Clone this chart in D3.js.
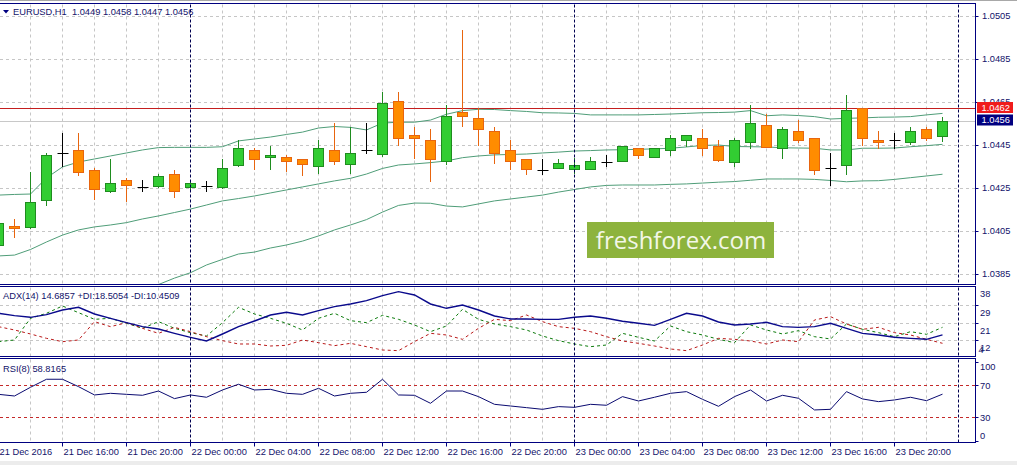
<!DOCTYPE html>
<html>
<head>
<meta charset="utf-8">
<script src="https://cdn.jsdelivr.net/npm/d3@7"></script>
<style>
  html, body { margin: 0; padding: 0; background: #fff; overflow: hidden; }
  svg { display: block; font-family: "Liberation Sans", Arial, sans-serif; }
</style>
</head>
<body>
<div id="chart"></div>
<script>
// EURUSD H1, one bar per hour from 21 Dec 2016 12:00
const opens = [1.03984, 1.04073, 1.04070, 1.04193, 1.04413, 1.04425, 1.04332, 1.04235, 1.04287, 1.04253,
  1.04261, 1.04314, 1.04253, 1.04259, 1.04253, 1.04356, 1.04425, 1.04393, 1.04393, 1.04384,
  1.04354, 1.04425, 1.04363, 1.04425, 1.04410, 1.04655, 1.04495, 1.04472, 1.04374, 1.04602,
  1.04574, 1.04514, 1.04425, 1.04384, 1.04332, 1.04342, 1.04340, 1.04340, 1.04370, 1.04374,
  1.04435, 1.04393, 1.04425, 1.04472, 1.04481, 1.04444, 1.04372, 1.04463, 1.04542, 1.04435,
  1.04514, 1.04481, 1.04342, 1.04356, 1.04621, 1.04472, 1.04472, 1.04463, 1.04523, 1.0449];
const highs = [1.04097, 1.04106, 1.04326, 1.04414, 1.04506, 1.04506, 1.04343, 1.04385, 1.04297, 1.04287,
  1.04315, 1.04334, 1.04284, 1.04284, 1.04385, 1.04472, 1.04436, 1.04445, 1.04404, 1.04384,
  1.04473, 1.04551, 1.04534, 1.04551, 1.04697, 1.04697, 1.04534, 1.04524, 1.04635, 1.04985,
  1.04621, 1.04535, 1.04472, 1.04384, 1.04384, 1.04384, 1.04391, 1.04393, 1.04402, 1.04444,
  1.04435, 1.04435, 1.04495, 1.04495, 1.04523, 1.04472, 1.04481, 1.04636, 1.04594, 1.04534,
  1.04566, 1.04481, 1.04411, 1.04683, 1.04621, 1.04514, 1.04504, 1.04532, 1.04532, 1.0458];
const lows = [1.03978, 1.04024, 1.04063, 1.04172, 1.04352, 1.04312, 1.04200, 1.04232, 1.04191, 1.04235,
  1.04255, 1.04210, 1.04235, 1.04235, 1.04250, 1.04354, 1.04340, 1.04340, 1.04330, 1.04312,
  1.04321, 1.04363, 1.04321, 1.04411, 1.04399, 1.04451, 1.04391, 1.04284, 1.04363, 1.04538,
  1.04451, 1.04365, 1.04340, 1.04314, 1.04314, 1.04342, 1.04321, 1.04340, 1.04352, 1.04374,
  1.04391, 1.04393, 1.04402, 1.04444, 1.04402, 1.04374, 1.04354, 1.04435, 1.04441, 1.04391,
  1.04463, 1.04314, 1.04263, 1.04314, 1.04451, 1.04435, 1.04435, 1.04453, 1.04472, 1.0447];
const closes = [1.04086, 1.04063, 1.04184, 1.04402, 1.04413, 1.04323, 1.04244, 1.04272, 1.04263, 1.04253,
  1.04304, 1.04235, 1.04272, 1.04259, 1.04342, 1.04435, 1.04384, 1.04404, 1.04374, 1.04363,
  1.04435, 1.04374, 1.04411, 1.04425, 1.04644, 1.04481, 1.04481, 1.04384, 1.04583, 1.04583,
  1.04523, 1.04411, 1.04374, 1.04340, 1.04332, 1.04365, 1.04356, 1.04374, 1.04370, 1.04444,
  1.04402, 1.04435, 1.04481, 1.04495, 1.04435, 1.04382, 1.04472, 1.04551, 1.04441, 1.04523,
  1.04472, 1.04332, 1.04342, 1.04611, 1.04481, 1.04463, 1.04472, 1.04514, 1.04481, 1.0456];

// Bollinger bands
const bbUpper = [1.04217, 1.04220, 1.04222, 1.04297, 1.04348, 1.04371, 1.04385, 1.04399, 1.04413, 1.04427,
  1.04438, 1.04439, 1.04439, 1.04439, 1.04442, 1.04469, 1.04478, 1.04487, 1.04499, 1.04510,
  1.04529, 1.04536, 1.04532, 1.04520, 1.04552, 1.04556, 1.04556, 1.04566, 1.04593, 1.04610,
  1.04616, 1.04615, 1.04610, 1.04606, 1.04600, 1.04599, 1.04597, 1.04590, 1.04590, 1.04590,
  1.04590, 1.04592, 1.04594, 1.04597, 1.04600, 1.04601, 1.04603, 1.04610, 1.04586, 1.04590,
  1.04587, 1.04582, 1.04571, 1.04574, 1.04576, 1.04579, 1.04580, 1.04582, 1.04590, 1.04597];
const bbMiddle = [1.03934, 1.03938, 1.03964, 1.03999, 1.04031, 1.04055, 1.04069, 1.04078, 1.04089, 1.04106,
  1.04120, 1.04136, 1.04152, 1.04171, 1.04190, 1.04201, 1.04213, 1.04227, 1.04241, 1.04255,
  1.04269, 1.04283, 1.04295, 1.04315, 1.04341, 1.04357, 1.04362, 1.04368, 1.04376, 1.04391,
  1.04399, 1.04404, 1.04406, 1.04408, 1.04413, 1.04417, 1.04422, 1.04424, 1.04427, 1.04428,
  1.04430, 1.04432, 1.04435, 1.04441, 1.04448, 1.04450, 1.04443, 1.04442, 1.04441, 1.04437,
  1.04436, 1.04435, 1.04427, 1.04427, 1.04435, 1.04435, 1.04436, 1.04442, 1.04447, 1.04453];
const bbLower = [1.03650, 1.03657, 1.03706, 1.03701, 1.03715, 1.03738, 1.03752, 1.03757, 1.03766, 1.03785,
  1.03801, 1.03831, 1.03856, 1.03892, 1.03918, 1.03943, 1.03952, 1.03971, 1.03985, 1.04003,
  1.04027, 1.04055, 1.04078, 1.04103, 1.04138, 1.04169, 1.04180, 1.04179, 1.04166, 1.04162,
  1.04176, 1.04190, 1.04199, 1.04208, 1.04217, 1.04231, 1.04243, 1.04255, 1.04262, 1.04264,
  1.04264, 1.04264, 1.04267, 1.04269, 1.04273, 1.04277, 1.04280, 1.04286, 1.04292, 1.04292,
  1.04292, 1.04290, 1.04285, 1.04279, 1.04283, 1.04284, 1.04290, 1.04298, 1.04306, 1.04314];

// ADX(14)
const adx = [25.55, 24.37, 23.53, 24.87, 27.23, 28.57, 25.21, 23.03, 20.84, 18.83,
  17.65, 15.47, 13.46, 11.61, 15.13, 18.83, 21.68, 24.71, 26.05, 24.71,
  26.89, 28.90, 30.25, 31.93, 34.44, 36.46, 34.78, 30.25, 28.07, 29.74,
  27.23, 24.20, 22.69, 22.69, 22.52, 22.52, 23.53, 24.20, 23.03, 21.52,
  20.51, 19.50, 22.52, 25.55, 24.20, 21.18, 19.67, 20.17, 21.01, 18.83,
  18.49, 18.83, 20.51, 17.99, 15.47, 14.63, 13.46, 12.95, 12.45, 14.6857];
const plusDI = [11.27, 12.11, 23.03, 25.55, 29.24, 25.88, 22.52, 23.03, 20.51, 17.99,
  21.35, 17.99, 15.81, 14.13, 20.84, 28.57, 25.21, 23.03, 20.51, 17.15,
  23.03, 25.55, 21.85, 20.84, 24.54, 22.52, 19.67, 16.31, 19.17, 27.56,
  22.52, 20.17, 18.83, 17.15, 14.13, 11.78, 10.10, 8.75, 9.59, 15.47,
  13.46, 11.61, 19.17, 16.31, 14.63, 12.45, 10.77, 19.67, 17.15, 15.14,
  16.81, 13.79, 12.62, 20.17, 17.49, 15.81, 13.79, 16.31, 14.97, 18.5054];
const minusDI = [18.83, 17.15, 15.14, 12.95, 11.27, 12.11, 21.35, 18.83, 20.84, 17.99,
  15.47, 18.49, 16.31, 13.79, 11.78, 10.10, 10.10, 9.09, 9.43, 12.11,
  10.77, 9.26, 10.43, 8.75, 7.07, 6.74, 11.27, 15.47, 14.63, 12.45,
  17.99, 22.52, 21.85, 24.71, 21.35, 18.83, 17.99, 16.31, 13.79, 11.61,
  10.43, 9.09, 7.58, 6.74, 9.59, 12.95, 12.45, 11.61, 10.10, 12.11,
  11.27, 22.19, 23.87, 20.17, 17.49, 18.49, 15.81, 14.63, 12.45, 10.4509];

// RSI(8)
const rsi = [58.6, 56.5, 67.5, 77.6, 77.6, 68.3, 57.8, 59.9, 58.6, 57.4,
  62.8, 53.2, 57.8, 54.9, 64.1, 71.3, 64.1, 64.9, 59.9, 58.6,
  66.2, 56.5, 59.9, 61.2, 77.6, 57.8, 57.4, 47.3, 62.8, 62.8,
  55.7, 46.0, 43.9, 41.8, 39.7, 43.1, 42.2, 46.0, 44.8, 55.7,
  50.2, 54.9, 59.9, 62.0, 52.3, 43.5, 55.7, 64.1, 50.2, 57.4,
  53.6, 38.9, 39.7, 62.0, 52.8, 49.4, 51.5, 54.9, 50.6, 58.8165];

// axes
const priceTicks = [1.0505, 1.0485, 1.0465, 1.0445, 1.0425, 1.0405, 1.0385];
const timeTickBars = [0, 4, 8, 12, 16, 20, 24, 28, 32, 36, 40, 44, 48, 52, 56];
const timeTickLabels = ['21 Dec 2016', '21 Dec 16:00', '21 Dec 20:00', '22 Dec 00:00', '22 Dec 04:00',
  '22 Dec 08:00', '22 Dec 12:00', '22 Dec 16:00', '22 Dec 20:00', '23 Dec 00:00', '23 Dec 04:00',
  '23 Dec 08:00', '23 Dec 12:00', '23 Dec 16:00', '23 Dec 20:00'];
const daySeparators = [12, 36, 60];
const adxGrid = [29.74, 20.83, 12.11];
const adxTickLabels = ['38', '29', '21', '12', '4'];
const adxTickValues = [38.8, 29.74, 20.83, 12.11, 4.0];
const rsiLevels = [70, 30];
const rsiTicks = [100, 70, 30, 0];
const horizLine = 1.0462;
const bidPrice = 1.0456;

const W = 1017, H = 465;
const axisX = 975.5;
const mainP = { top: 3.5, bottom: 284.5 };
const adxP = { top: 286.5, bottom: 356.5 };
const rsiP = { top: 358.5, bottom: 442.5 };
const navy = '#000080';
const textCol = '#12126a';
const gridCol = '#c6c6c6';

const svg = d3.select('#chart').append('svg')
  .attr('width', W).attr('height', H);

const x = d3.scaleLinear().domain([0, 60]).range([-1.5, 958.5]);
const y = d3.scaleLinear().domain([1.0385, 1.0505]).range([274, 16]);
const yAdx = d3.scaleLinear().domain([4.0, 38.8]).range([356.1, 287]);
const yRsi = d3.scaleLinear().domain([0, 100]).range([440.8, 361.5]);
const crisp = v => Math.round(v) + 0.5;
const bars = d3.range(opens.length);

// clip paths per panel
const defs = svg.append('defs');
[['clip-main', mainP], ['clip-adx', adxP], ['clip-rsi', rsiP]].forEach(([id, p]) => {
  defs.append('clipPath').attr('id', id).append('rect')
    .attr('x', 0).attr('y', p.top).attr('width', axisX).attr('height', p.bottom - p.top);
});

// window border strips
svg.append('rect').attr('x', 0).attr('y', 461).attr('width', W).attr('height', 4).attr('fill', '#ececec');
svg.append('line').attr('x1', 0).attr('x2', W).attr('y1', 0.5).attr('y2', 0.5).attr('stroke', '#a8a8a8');

// vertical grid in every panel
const vGrid = d3.range(0, 60, 2).filter(i => !daySeparators.includes(i));
[mainP, adxP, rsiP].forEach(p => {
  svg.append('g').selectAll('line').data(vGrid).enter().append('line')
    .attr('x1', i => x(i)).attr('x2', i => x(i))
    .attr('y1', p.top + 1).attr('y2', p.bottom)
    .attr('stroke', gridCol).attr('stroke-dasharray', '3,3');
});

// main panel
const gMain = svg.append('g').attr('clip-path', 'url(#clip-main)');

gMain.selectAll('.hgrid').data(priceTicks).enter().append('line')
  .attr('x1', 0).attr('x2', axisX)
  .attr('y1', d => crisp(y(d))).attr('y2', d => crisp(y(d)))
  .attr('stroke', gridCol).attr('stroke-dasharray', '3,3');

gMain.append('line')
  .attr('x1', 0).attr('x2', axisX)
  .attr('y1', crisp(y(bidPrice))).attr('y2', crisp(y(bidPrice)))
  .attr('stroke', '#c8c8c8');

gMain.append('line')
  .attr('x1', 0).attr('x2', axisX)
  .attr('y1', crisp(y(horizLine))).attr('y2', crisp(y(horizLine)))
  .attr('stroke', '#c41f1f');

const bandLine = d3.line().x((d, i) => x(i)).y(d => y(d));
[bbUpper, bbMiddle, bbLower].forEach(band => {
  gMain.append('path').datum(band)
    .attr('d', bandLine).attr('fill', 'none')
    .attr('stroke', '#4f9d78').attr('stroke-width', 1);
});

// candles
const candle = gMain.selectAll('.candle').data(bars).enter().append('g').attr('class', 'candle');
const kind = i => closes[i] > opens[i] ? 'up' : (closes[i] < opens[i] ? 'down' : 'doji');
const edge = { up: '#1f8c1f', down: '#e8650e', doji: '#000000' };
const fill = { up: '#32cd32', down: '#ff8c00' };

candle.append('line')
  .attr('x1', i => x(i)).attr('x2', i => x(i))
  .attr('y1', i => Math.round(y(highs[i]))).attr('y2', i => Math.round(y(lows[i])) + 1)
  .attr('stroke', i => edge[kind(i)]);

candle.filter(i => kind(i) !== 'doji').append('rect')
  .attr('x', i => x(i) - 5)
  .attr('y', i => crisp(y(Math.max(opens[i], closes[i]))))
  .attr('width', 10)
  .attr('height', i => Math.max(1, crisp(y(Math.min(opens[i], closes[i]))) - crisp(y(Math.max(opens[i], closes[i])))))
  .attr('fill', i => fill[kind(i)])
  .attr('stroke', i => edge[kind(i)]);

candle.filter(i => kind(i) === 'doji').append('line')
  .attr('x1', i => x(i) - 5).attr('x2', i => x(i) + 6)
  .attr('y1', i => crisp(y(opens[i]))).attr('y2', i => crisp(y(opens[i])))
  .attr('stroke', '#000');

// watermark
svg.append('rect').attr('x', 587).attr('y', 222).attr('width', 187).attr('height', 36).attr('fill', '#8db33d');
svg.append('text').attr('x', 681).attr('y', 248.5)
  .attr('text-anchor', 'middle')
  .style('font-family', '"Open Sans", "Noto Sans", sans-serif')
  .style('font-size', '24px').style('fill', '#f3f7e8')
  .text('freshforex.com');

// ADX panel
const gAdx = svg.append('g').attr('clip-path', 'url(#clip-adx)');
gAdx.selectAll('.hgrid').data(adxGrid).enter().append('line')
  .attr('x1', 0).attr('x2', axisX)
  .attr('y1', d => crisp(yAdx(d))).attr('y2', d => crisp(yAdx(d)))
  .attr('stroke', gridCol).attr('stroke-dasharray', '3,3');

const adxLine = d3.line().x((d, i) => x(i)).y(d => yAdx(d));
gAdx.append('path').datum(plusDI).attr('d', adxLine).attr('fill', 'none')
  .attr('stroke', '#0b7a0b').attr('stroke-dasharray', '3,3');
gAdx.append('path').datum(minusDI).attr('d', adxLine).attr('fill', 'none')
  .attr('stroke', '#b81818').attr('stroke-dasharray', '3,3');
gAdx.append('path').datum(adx).attr('d', adxLine).attr('fill', 'none')
  .attr('stroke', '#0a0a8c').attr('stroke-width', 1.4);

// RSI panel
const gRsi = svg.append('g').attr('clip-path', 'url(#clip-rsi)');
gRsi.selectAll('.level').data(rsiLevels).enter().append('line')
  .attr('x1', 0).attr('x2', axisX)
  .attr('y1', d => crisp(yRsi(d))).attr('y2', d => crisp(yRsi(d)))
  .attr('stroke', '#c42a2a').attr('stroke-dasharray', '3,3');
gRsi.append('path').datum(rsi)
  .attr('d', d3.line().x((d, i) => x(i)).y(d => yRsi(d)))
  .attr('fill', 'none').attr('stroke', '#0a0a70').attr('stroke-width', 1);

// day separators across all panels
[mainP, adxP, rsiP].forEach(p => {
  svg.append('g').selectAll('line').data(daySeparators).enter().append('line')
    .attr('x1', i => x(i)).attr('x2', i => x(i))
    .attr('y1', p.top + 1).attr('y2', p.bottom)
    .attr('stroke', '#000050').attr('stroke-dasharray', '3,2');
});

// panel frames
[mainP, adxP, rsiP].forEach(p => {
  svg.append('rect')
    .attr('x', -0.5).attr('y', p.top).attr('width', axisX + 0.5).attr('height', p.bottom - p.top)
    .attr('fill', 'none').attr('stroke', navy).attr('stroke-width', 1);
});

// price axis
const priceAxis = svg.append('g').style('font-size', '9.3px').style('fill', textCol);
priceAxis.selectAll('line').data(priceTicks).enter().append('line')
  .attr('x1', axisX).attr('x2', axisX + 3)
  .attr('y1', d => crisp(y(d))).attr('y2', d => crisp(y(d)))
  .attr('stroke', navy);
priceAxis.selectAll('text').data(priceTicks).enter().append('text')
  .attr('x', 982).attr('y', d => y(d) + 3.4)
  .text(d => d.toFixed(4));

// price tags
[[horizLine, '#f01c1c', 102], [bidPrice, '#000080', 114.5]].forEach(([p, col, top]) => {
  svg.append('rect').attr('x', 977).attr('y', top).attr('width', 36).attr('height', 11).attr('fill', col);
  svg.append('text').attr('x', 981.5).attr('y', top + 8.8)
    .style('font-size', '9.3px').style('fill', '#fff')
    .text(p.toFixed(4));
});

// ADX axis
const adxAxis = svg.append('g').style('font-size', '9.3px').style('fill', textCol);
adxAxis.selectAll('line').data(adxGrid).enter().append('line')
  .attr('x1', axisX).attr('x2', axisX + 3)
  .attr('y1', d => crisp(yAdx(d))).attr('y2', d => crisp(yAdx(d)))
  .attr('stroke', navy);
adxAxis.selectAll('text').data(adxTickValues).enter().append('text')
  .attr('x', (d, i) => i === 4 ? 978.5 : 980)
  .attr('y', (d, i) => i === 4 ? yAdx(d) - 3 : yAdx(d) + (i === 0 ? 9.8 : 11))
  .text((d, i) => adxTickLabels[i]);

// RSI axis
const rsiAxis = svg.append('g').style('font-size', '9.3px').style('fill', textCol);
rsiAxis.selectAll('line').data(rsiTicks).enter().append('line')
  .attr('x1', axisX).attr('x2', axisX + 3)
  .attr('y1', d => crisp(yRsi(d))).attr('y2', d => crisp(yRsi(d)))
  .attr('stroke', navy);
rsiAxis.selectAll('text').data(rsiTicks).enter().append('text')
  .attr('x', 980)
  .attr('y', d => d === 100 ? yRsi(d) + 8.6 : (d === 0 ? yRsi(d) - 2.2 : yRsi(d) + 3.5))
  .text(d => d);

// time axis
const timeAxis = svg.append('g').style('font-size', '9.3px').style('fill', textCol);
timeAxis.selectAll('line').data(timeTickBars).enter().append('line')
  .attr('x1', i => x(i)).attr('x2', i => x(i))
  .attr('y1', rsiP.bottom).attr('y2', rsiP.bottom + 4)
  .attr('stroke', navy);
timeAxis.selectAll('text').data(timeTickBars).enter().append('text')
  .attr('x', i => x(i) + 1).attr('y', 455.3)
  .text((d, k) => timeTickLabels[k]);

// panel captions
svg.append('path').attr('d', 'M3,10 L9,10 L6,13.5 Z').attr('fill', navy);
svg.append('text').attr('x', 13).attr('y', 15)
  .style('font-size', '9.3px').style('fill', textCol).style('white-space', 'pre')
  .text('EURUSD,H1  1.0449 1.0458 1.0447 1.0456');
svg.append('text').attr('x', 3).attr('y', 299)
  .style('font-size', '9.3px').style('fill', textCol)
  .text('ADX(14) 14.6857 +DI:18.5054 -DI:10.4509');
svg.append('text').attr('x', 3).attr('y', 372)
  .style('font-size', '9.3px').style('fill', textCol)
  .text('RSI(8) 58.8165');
</script>
</body>
</html>
